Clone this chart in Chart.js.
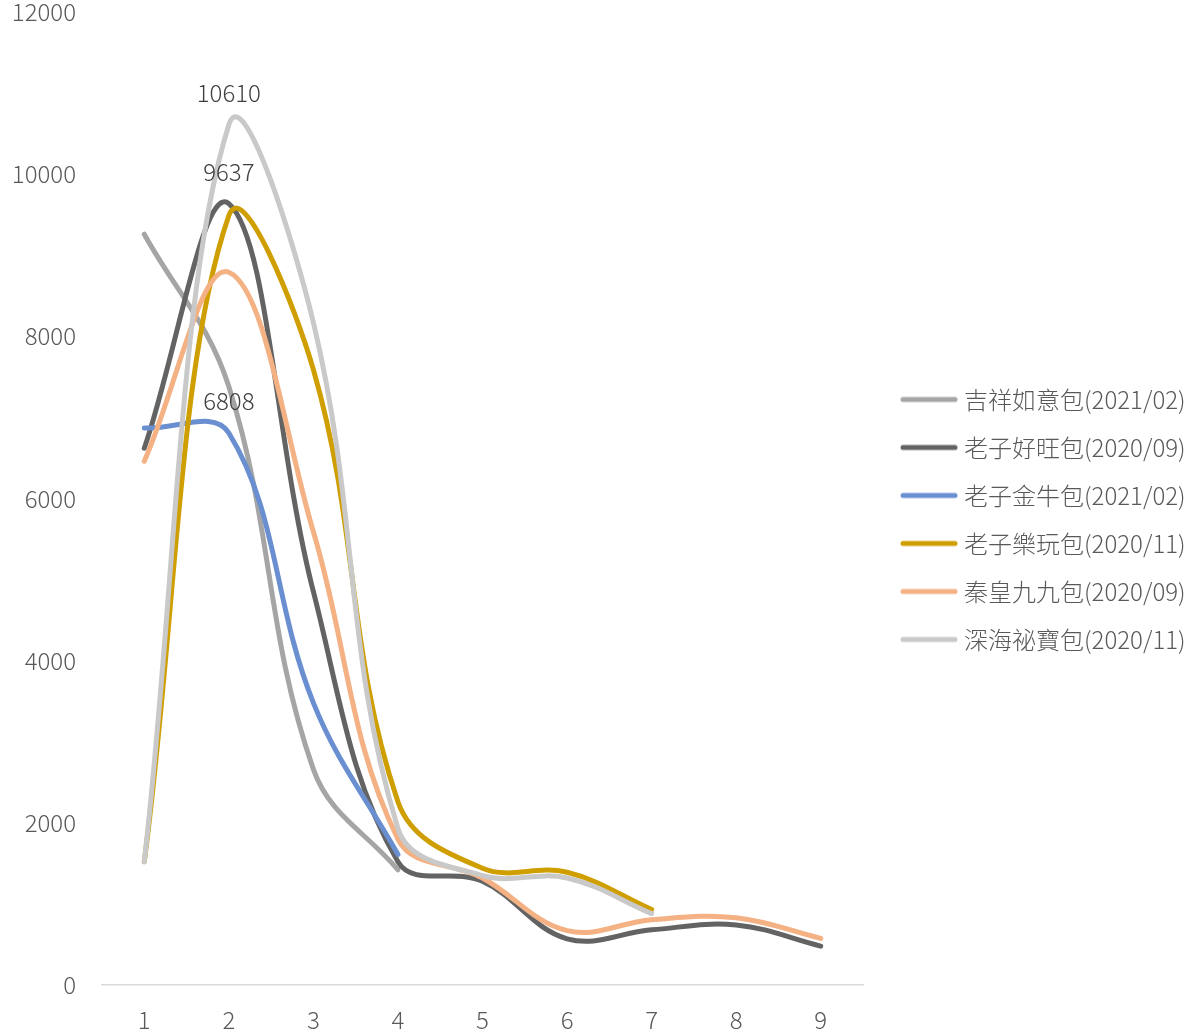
<!DOCTYPE html>
<html>
<head>
<meta charset="utf-8">
<script src="https://cdn.jsdelivr.net/npm/chart.js@4.4.1/dist/chart.umd.min.js"></script>
<style>
  html, body { margin: 0; padding: 0; background: #ffffff; }
  #wrap { width: 1189px; height: 1033px; position: relative; }
</style>
</head>
<body>
<div id="wrap"><canvas id="c" width="1189" height="1033"></canvas></div>
<script>
// Weeks since launch
const categories = ['1', '2', '3', '4', '5', '6', '7', '8', '9'];

// Sales per week for each pack
const jixiang = [9260, 7380, 2660, 1420];
const haowang = [6620, 9637, 4850, 1520, 1280, 570, 680, 740, 480];
const jinniu  = [6870, 6808, 3480, 1610];
const lewan   = [1520, 9490, 7590, 2260, 1440, 1390, 930];
const qinhuang = [6460, 8790, 5590, 1800, 1320, 670, 805, 830, 575];
const shenhai = [1520, 10610, 8170, 1930, 1350, 1320, 880];

const seriesNames = [
  '吉祥如意包(2021/02)',
  '老子好旺包(2020/09)',
  '老子金牛包(2021/02)',
  '老子樂玩包(2020/11)',
  '秦皇九九包(2020/09)',
  '深海祕寶包(2020/11)'
];
const seriesValues = [jixiang, haowang, jinniu, lewan, qinhuang, shenhai];
const seriesColors = ['#a5a5a5', '#636363', '#6a8fd0', '#cf9e00', '#f4b183', '#c9c9c9'];

// Value labels shown above the week-2 peaks: [series, week index]
const labelledPoints = [[5, 1], [1, 1], [2, 1]];

const yTicks = [0, 2000, 4000, 6000, 8000, 10000, 12000];

const FONT = "'Noto Sans CJK TC', 'Noto Sans', sans-serif";
const TEXT = '#595959';
const tickFont = { family: FONT, size: 24, weight: '300' };

// Rounded line swatch used as the legend marker
function swatch(color) {
  const c = document.createElement('canvas');
  c.width = 58; c.height = 8;
  const g = c.getContext('2d');
  g.strokeStyle = color;
  g.lineWidth = 5;
  g.lineCap = 'round';
  g.beginPath();
  g.moveTo(3, 4);
  g.lineTo(55, 4);
  g.stroke();
  return c;
}

const datasets = seriesNames.map((name, i) => ({
  label: name,
  data: seriesValues[i],
  borderColor: seriesColors[i],
  backgroundColor: seriesColors[i],
  borderWidth: 5,
  borderCapStyle: 'round',
  borderJoinStyle: 'round',
  pointRadius: 0,
  pointHoverRadius: 0,
  tension: 0.38,
  fill: false,
  clip: false,
  order: seriesNames.length - i   // later series are drawn on top
}));

const valueLabels = {
  id: 'valueLabels',
  afterDatasetsDraw(chart) {
    const ctx = chart.ctx;
    ctx.save();
    ctx.font = "300 24px " + FONT;
    ctx.fillStyle = '#404040';
    ctx.textAlign = 'center';
    ctx.textBaseline = 'middle';
    labelledPoints.forEach(([s, idx]) => {
      const pt = chart.getDatasetMeta(s).data[idx];
      const v = chart.data.datasets[s].data[idx];
      ctx.fillText(String(v), pt.x, pt.y - 32);
    });
    ctx.restore();
  }
};

// Legend column: fixed width beside the plot, nudged right of the plot edge
const legendPlacement = {
  id: 'legendPlacement',
  afterInit(chart) {
    const lg = chart.legend;
    const fit = lg.fit.bind(lg);
    lg.fit = function () { fit(); this.width = 326; };
  },
  afterLayout(chart) {
    const lg = chart.legend;
    lg.left += 19; lg.right += 19;
    lg.top += 3; lg.bottom += 3;
  }
};

new Chart(document.getElementById('c'), {
  type: 'line',
  data: { labels: categories, datasets },
  options: {
    responsive: false,
    animation: false,
    layout: { padding: { left: 0, right: 0, top: 0, bottom: 0 } },
    scales: {
      x: {
        offset: true,
        afterFit(scale) { scale.height = 48; },
        grid: { display: false, drawTicks: false },
        border: { display: true, color: '#d9d9d9', width: 1.5 },
        ticks: { color: TEXT, font: tickFont, padding: 20 }
      },
      y: {
        min: 0,
        max: 12000,
        afterBuildTicks(scale) { scale.ticks = yTicks.map(v => ({ value: v })); },
        afterFit(scale) { scale.width = 102; scale.paddingTop = 12; },
        grid: { display: false, drawTicks: false },
        border: { display: false },
        ticks: { color: TEXT, font: tickFont, padding: 26, callback: v => String(v) }
      }
    },
    plugins: {
      legend: {
        position: 'right',
        align: 'center',
        labels: {
          usePointStyle: true,
          pointStyleWidth: 46,
          boxHeight: 8,
          padding: 24,
          color: TEXT,
          font: tickFont,
          sort: (a, b) => a.datasetIndex - b.datasetIndex,
          generateLabels(chart) {
            return chart.data.datasets.map((ds, i) => ({
              text: ds.label,
              pointStyle: swatch(ds.borderColor),
              fillStyle: ds.borderColor,
              strokeStyle: ds.borderColor,
              lineWidth: 0,
              fontColor: TEXT,
              hidden: false,
              datasetIndex: i
            }));
          }
        }
      },
      tooltip: { enabled: false }
    }
  },
  plugins: [valueLabels, legendPlacement]
});
</script>
</body>
</html>
